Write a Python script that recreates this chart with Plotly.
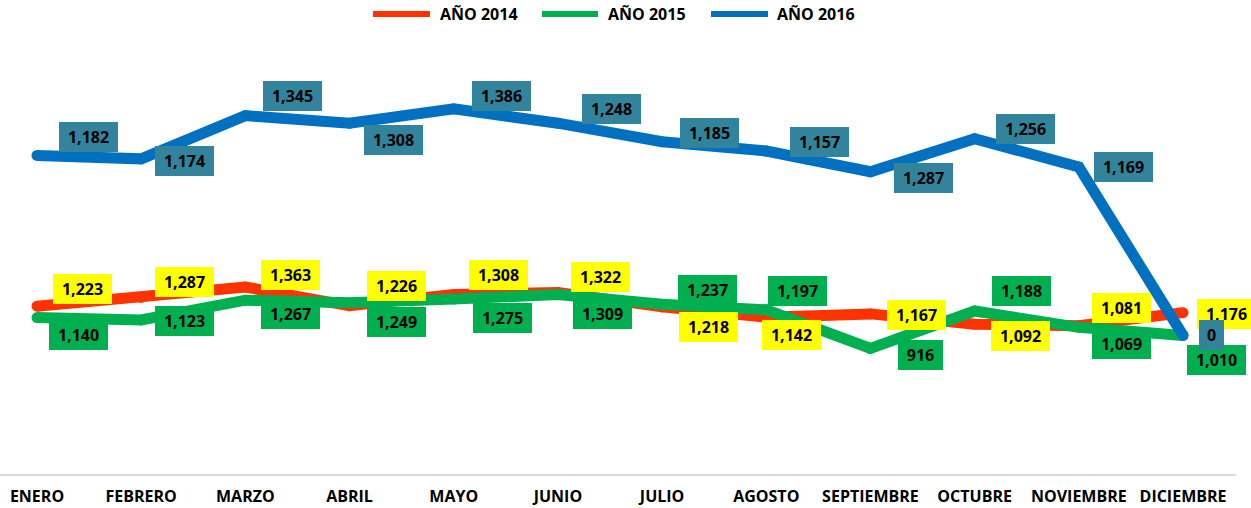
import plotly.graph_objects as go

meses = ["ENERO", "FEBRERO", "MARZO", "ABRIL", "MAYO", "JUNIO", "JULIO",
         "AGOSTO", "SEPTIEMBRE", "OCTUBRE", "NOVIEMBRE", "DICIEMBRE"]
anio_2014 = [1223, 1287, 1363, 1226, 1308, 1322, 1218, 1142, 1167, 1092, 1081, 1176]
anio_2015 = [1140, 1123, 1267, 1249, 1275, 1309, 1237, 1197, 916, 1188, 1069, 1010]
anio_2016 = [1182, 1174, 1345, 1308, 1386, 1248, 1185, 1157, 1287, 1256, 1169, 0]

series_names = ["AÑO 2014", "AÑO 2015", "AÑO 2016"]
line_colors = ["#FF3300", "#00B050", "#0070C0"]
label_bg = ["#FFFF00", "#00B050", "#31849B"]

# label offsets in pixels (dx right, dy down) - styling only
off_2014 = [(45, -17), (43, -15), (45, -12), (47, -20), (45, -20), (43, -16),
            (46, 20), (25, 18), (46, 1), (46, 12), (43, -18), (43, 1)]
off_2015 = [(41, 17), (43, 1), (45, 14), (47, 19), (49, 19), (45, 20),
            (45, -14), (31, -19), (50, 7), (47, -20), (43, 17), (33, 25)]
off_2016 = [(51, -18), (43, 2), (47, -20), (44, 17), (48, -13), (54, -14),
            (47, -9), (53, -9), (53, 6), (51, -10), (45, 0), (28, 0)]

FONT = "Open Sans"
LW = 11

fig = go.Figure()
# 2014 stands alone; 2015 and 2016 are stacked (as in the original sheet)
fig.add_trace(go.Scatter(x=meses, y=anio_2014, mode="lines+markers",
                         line=dict(color=line_colors[0], width=LW),
                         marker=dict(color=line_colors[0], size=LW),
                         name=series_names[0], showlegend=False, cliponaxis=False))
fig.add_trace(go.Scatter(x=meses, y=anio_2015, mode="lines+markers", stackgroup="s", fill="none",
                         line=dict(color=line_colors[1], width=LW),
                         marker=dict(color=line_colors[1], size=LW),
                         name=series_names[1], showlegend=False, cliponaxis=False))
fig.add_trace(go.Scatter(x=meses, y=anio_2016, mode="lines+markers", stackgroup="s", fill="none",
                         line=dict(color=line_colors[2], width=LW),
                         marker=dict(color=line_colors[2], size=LW),
                         name=series_names[2], showlegend=False, cliponaxis=False))

stack_2016 = [a + b for a, b in zip(anio_2015, anio_2016)]
box_w = {1: 25, 2: 35, 3: 45, 4: 52, 5: 59}

annotations = []
for vals, ypos, offs, bg in [(anio_2014, anio_2014, off_2014, label_bg[0]),
                             (anio_2015, anio_2015, off_2015, label_bg[1]),
                             (anio_2016, stack_2016, off_2016, label_bg[2])]:
    for m, v, yp, (dx, dy) in zip(meses, vals, ypos, offs):
        txt = f"{v:,}"
        annotations.append(dict(
            x=m, y=yp, xref="x", yref="y", text=f"<b>{txt}</b>", showarrow=False,
            xshift=dx, yshift=-dy, bgcolor=bg, borderpad=0, borderwidth=0,
            width=box_w[len(txt)], height=30, align="center", valign="middle",
            font=dict(family=FONT, size=16, color="#000000")))

# custom legend (pixel positions converted to paper coordinates)
W, H = 1251, 508
ML, MR, MT, MB = 0, 15, 34, 34
pw, ph = W - ML - MR, H - MT - MB

def px(xp):
    return (xp - ML) / pw

def py(yp):
    return (H - MB - yp) / ph

legend_items = [(373, 430, 438), (542, 598, 606), (711, 768, 775)]
shapes = []
for (x0, x1, xt), name, col in zip(legend_items, series_names, line_colors):
    shapes.append(dict(type="line", xref="paper", yref="paper", x0=px(x0), x1=px(x1),
                       y0=py(14), y1=py(14), line=dict(color=col, width=6)))
    annotations.append(dict(x=px(xt), y=py(14), xref="paper", yref="paper",
                            text=f"<b>{name}</b>", showarrow=False, xanchor="left",
                            yanchor="middle", font=dict(family=FONT, size=16, color="#000000")))

step = (1183 - 37) / 11
ymax = ph / 0.1372
fig.update_layout(
    width=W, height=H, margin=dict(l=ML, r=MR, t=MT, b=MB, autoexpand=False),
    paper_bgcolor="white", plot_bgcolor="white",
    annotations=annotations, shapes=shapes, showlegend=False,
    xaxis=dict(type="category", categoryorder="array", categoryarray=meses,
               range=[-37 / step, 11 + (1236 - 1183) / step], automargin=False,
               showgrid=False, zeroline=False, showline=True, linecolor="#D9D9D9", linewidth=2,
               ticks="outside", ticklen=7, tickcolor="rgba(0,0,0,0)",
               tickfont=dict(family=FONT, size=16, color="#000000", weight="bold")),
    yaxis=dict(range=[0, ymax], visible=False, showgrid=False, zeroline=False, automargin=False),
)

fig.write_html("out.html", config={"displayModeBar": False},
               post_script="document.body.style.margin='0';document.body.style.overflow='hidden';")
